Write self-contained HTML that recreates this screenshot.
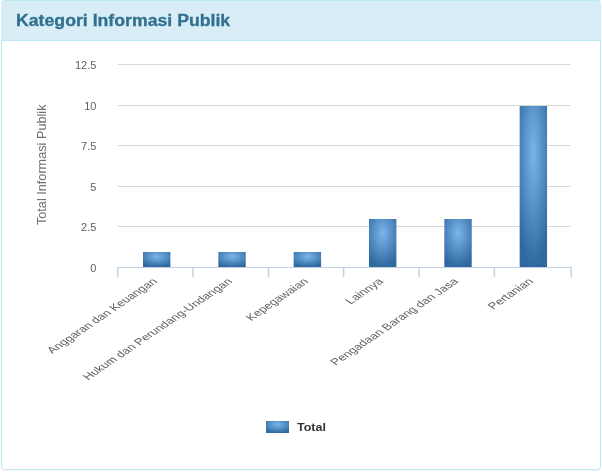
<!DOCTYPE html>
<html>
<head>
<meta charset="utf-8">
<title>Kategori Informasi Publik</title>
<style>
html,body{margin:0;padding:0;background:#fff;}
body{width:602px;height:472px;overflow:hidden;position:relative;font-family:"Liberation Sans",sans-serif;}
.panel{position:absolute;left:1px;top:0;width:600px;height:470px;border-radius:4px;background:#fff;box-shadow:0 1px 1px rgba(0,0,0,.05);overflow:hidden;}
.panel-heading{height:39px;background:#d9edf7;border-top:1px solid #bce8f1;border-bottom:1px solid #bce8f1;color:#31708f;}
.panel-body{height:428px;border:1px solid #bce8f1;border-top:0;border-radius:0 0 4px 4px;box-sizing:content-box;width:598px;}
.panel-title{margin:0;position:absolute;left:15px;top:10.6px;font-size:15.6px;-webkit-text-stroke:0.3px #31708f;line-height:20px;font-weight:bold;white-space:nowrap;transform-origin:0 0;transform:scaleX(1.134);}
svg{position:absolute;left:0;top:0;}
svg text{font-family:"Liberation Sans",sans-serif;}
</style>
</head>
<body>
<div class="panel">
  <div class="panel-heading"><h3 class="panel-title" id="ttl">Kategori Informasi Publik</h3></div>
  <div class="panel-body"></div>
</div>
<svg width="602" height="472" viewBox="0 0 602 472">
  <defs>
    <radialGradient id="g" cx="0.5" cy="0.3" r="0.7">
      <stop offset="0" stop-color="#7cb5ec"/>
      <stop offset="1" stop-color="#3069a0"/>
    </radialGradient>
  </defs>
  <g stroke="#d8d8d8" stroke-width="1">
    <line x1="118" x2="570.6" y1="64.5" y2="64.5"/>
    <line x1="118" x2="570.6" y1="105.5" y2="105.5"/>
    <line x1="118" x2="570.6" y1="145.5" y2="145.5"/>
    <line x1="118" x2="570.6" y1="186.5" y2="186.5"/>
    <line x1="118" x2="570.6" y1="226.5" y2="226.5"/>
  </g>
  <g fill="url(#g)">
    <rect x="143.00" y="252" width="27.4" height="15"/>
    <rect x="218.33" y="252" width="27.4" height="15"/>
    <rect x="293.67" y="252" width="27.4" height="15"/>
    <rect x="369.00" y="219" width="27.4" height="48"/>
    <rect x="444.33" y="219" width="27.4" height="48"/>
    <rect x="519.66" y="106" width="27.4" height="161"/>
  </g>
  <g fill="#c0d0e0">
    <rect x="117" y="267" width="455" height="1"/>
    <rect x="117.03" y="268" width="1.43" height="9"/>
    <rect x="192.28" y="268" width="1.43" height="9"/>
    <rect x="267.74" y="268" width="1.43" height="9"/>
    <rect x="342.89" y="268" width="1.43" height="9"/>
    <rect x="418.39" y="268" width="1.43" height="9"/>
    <rect x="493.69" y="268" width="1.43" height="9"/>
    <rect x="570.49" y="268" width="1.43" height="9"/>
  </g>
  <g font-size="11" fill="#606060" text-anchor="end">
    <text x="96.4" y="69">12.5</text>
    <text x="96.4" y="110">10</text>
    <text x="96.4" y="150">7.5</text>
    <text x="96.4" y="191">5</text>
    <text x="96.4" y="231">2.5</text>
    <text x="96.4" y="272">0</text>
  </g>
  <text font-size="12.7" fill="#707070" text-anchor="middle" transform="translate(46.3,164.8) rotate(-90)">Total Informasi Publik</text>
  <g font-size="9.15" fill="#606060" text-anchor="end">
    <text transform="translate(158,282) scale(1.47,1) rotate(-45)">Anggaran dan Keuangan</text>
    <text transform="translate(233,282) scale(1.47,1) rotate(-45)">Hukum dan Perundang-Undangan</text>
    <text transform="translate(309,282) scale(1.47,1) rotate(-45)">Kepegawaian</text>
    <text transform="translate(384,282) scale(1.47,1) rotate(-45)">Lainnya</text>
    <text transform="translate(459,282) scale(1.47,1) rotate(-45)">Pengadaan Barang dan Jasa</text>
    <text transform="translate(534,282) scale(1.47,1) rotate(-45)">Pertanian</text>
  </g>
  <rect x="266" y="421" width="23" height="12" fill="url(#g)"/>
  <text transform="translate(297,431.4) scale(1.11,1)" font-size="11.3" font-weight="bold" fill="#333333">Total</text>
</svg>
</body>
</html>
